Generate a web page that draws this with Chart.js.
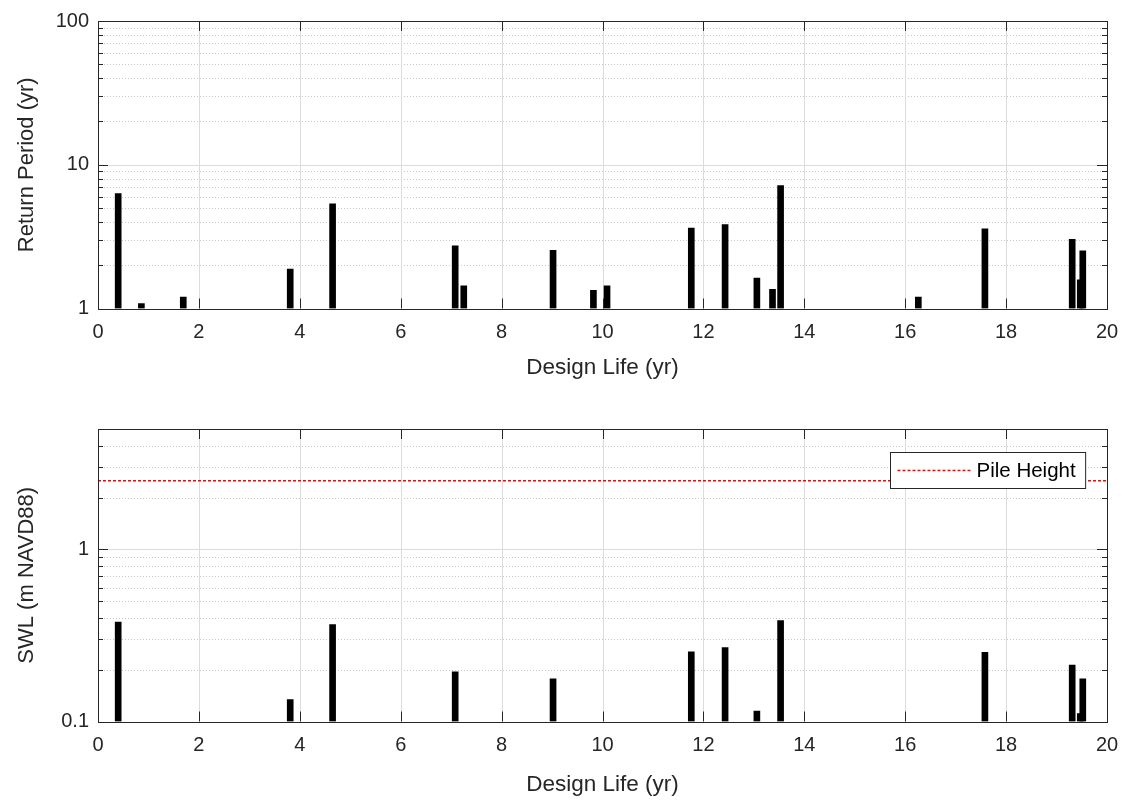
<!DOCTYPE html>
<html>
<head>
<meta charset="utf-8">
<script src="https://cdn.jsdelivr.net/npm/chart.js@4.4.1/dist/chart.umd.min.js"></script>
<style>
  body { margin: 0; background: #fff; }
  .painel { position: absolute; left: 0; width: 1124px; height: 400px; }
</style>
</head>
<body>
<div class="painel" style="top:0"><canvas id="retGrafico"></canvas></div>
<div class="painel" style="top:400px"><canvas id="swlGrafico"></canvas></div>
<script>
// eventos (anos de vida util) e valores
const eventos  = [0.40, 0.86, 1.69, 3.81, 4.65, 7.08, 7.25, 9.02, 9.82, 10.09, 11.76, 12.43, 13.06, 13.37, 13.53, 16.26, 17.58, 19.31, 19.47, 19.52];
const periodos = [6.3, 1.08, 1.2, 1.88, 5.35, 2.73, 1.44, 2.54, 1.34, 1.44, 3.62, 3.83, 1.63, 1.36, 7.17, 1.2, 3.58, 3.03, 1.58, 2.52];
const swl      = [0.378, null, null, 0.134, 0.366, 0.194, null, 0.177, null, null, 0.254, 0.269, 0.115, null, 0.386, null, 0.252, 0.213, 0.111, 0.177];
const alturaEstaca = 2.5;

const xTicks = [0, 2, 4, 6, 8, 10, 12, 14, 16, 18, 20];
const yTicksRet = [1, 10, 100];
const yTicksSwl = [0.1, 1];

const cinza = '#262626';
const fonte = "'Liberation Sans', Arial, sans-serif";

function pontos(vals) {
    const out = [];
    eventos.forEach((t, i) => { if (vals[i] != null) out.push({ x: t, y: vals[i] }); });
    return out;
}

function linha(ctx, x1, y1, x2, y2) {
    ctx.beginPath();
    ctx.moveTo(x1, y1);
    ctx.lineTo(x2, y2);
    ctx.stroke();
}

// grade, marcas internas e moldura estilo MATLAB
const moldura = {
    id: 'moldura',
    beforeDatasetsDraw(chart) {
        const { ctx, chartArea: a, scales: { x, y } } = chart;
        ctx.save();
        ctx.lineWidth = 1;
        const dMin = Math.floor(Math.log10(y.min) + 1e-9), dMax = Math.ceil(Math.log10(y.max) - 1e-9);
        ctx.strokeStyle = '#c8c8c8';
        ctx.setLineDash([1, 2]);
        for (let d = dMin; d < dMax; d++) {
            for (let m = 2; m < 10; m++) {
                const v = m * Math.pow(10, d);
                if (v > y.max) continue;
                const py = Math.round(y.getPixelForValue(v)) + 0.5;
                linha(ctx, a.left, py, a.right, py);
            }
        }
        ctx.setLineDash([]);
        ctx.strokeStyle = '#dcdcdc';
        x.ticks.forEach(t => {
            const px = Math.round(x.getPixelForValue(t.value)) + 0.5;
            linha(ctx, px, a.top, px, a.bottom);
        });
        y.ticks.forEach(t => {
            const py = Math.round(y.getPixelForValue(t.value)) + 0.5;
            linha(ctx, a.left, py, a.right, py);
        });
        ctx.restore();
    },
    afterDatasetsDraw(chart) {
        const { ctx, chartArea: a, scales: { x, y } } = chart;
        ctx.save();
        ctx.strokeStyle = cinza;
        ctx.lineWidth = 1;
        x.ticks.forEach(t => {
            const px = Math.round(x.getPixelForValue(t.value)) + 0.5;
            linha(ctx, px, a.bottom, px, a.bottom - 10);
            linha(ctx, px, a.top, px, a.top + 10);
        });
        const dMin = Math.floor(Math.log10(y.min) + 1e-9), dMax = Math.ceil(Math.log10(y.max) - 1e-9);
        for (let d = dMin; d < dMax; d++) {
            for (let m = 2; m < 10; m++) {
                const v = m * Math.pow(10, d);
                if (v > y.max) continue;
                const py = Math.round(y.getPixelForValue(v)) + 0.5;
                linha(ctx, a.left, py, a.left + 5, py);
                linha(ctx, a.right, py, a.right - 5, py);
            }
        }
        y.ticks.forEach(t => {
            const py = Math.round(y.getPixelForValue(t.value)) + 0.5;
            linha(ctx, a.left, py, a.left + 10, py);
            linha(ctx, a.right, py, a.right - 10, py);
        });
        ctx.strokeRect(Math.round(a.left) + 0.5, Math.round(a.top) + 0.5, Math.round(a.right - a.left), Math.round(a.bottom - a.top));

        // legenda dentro do grafico (canto superior direito)
        const ds = chart.data.datasets.find(d => d.type === 'line');
        if (ds) {
            ctx.font = '20.5px ' + fonte;
            const tw = ctx.measureText(ds.label).width;
            const w = 86 + tw + 10, h = 36;
            const bx = Math.round(a.right - 22 - w) + 0.5, by = Math.round(a.top + 23) + 0.5;
            ctx.fillStyle = '#fff';
            ctx.fillRect(bx, by, w, h);
            ctx.strokeStyle = cinza;
            ctx.strokeRect(bx, by, w, h);
            ctx.strokeStyle = ds.borderColor;
            ctx.lineWidth = ds.borderWidth;
            ctx.setLineDash(ds.borderDash);
            linha(ctx, bx + 7, by + h / 2, bx + 81, by + h / 2);
            ctx.setLineDash([]);
            ctx.fillStyle = '#000';
            ctx.textBaseline = 'middle';
            ctx.fillText(ds.label, bx + 86, by + h / 2 + 1);
        }
        ctx.restore();
    }
};

function eixoX(altura, padTitulo) {
    return {
        type: 'linear',
        min: 0,
        max: 20,
        offset: false,
        grid: { display: false, drawTicks: false, offset: false },
        border: { display: false },
        afterBuildTicks: s => { s.ticks = xTicks.map(v => ({ value: v })); },
        afterFit: s => { s.height = altura; s.paddingLeft = 0; s.paddingRight = 0; },
        ticks: {
            color: cinza,
            padding: 12,
            autoSkip: false,
            maxRotation: 0,
            font: { family: fonte, size: 20 }
        },
        title: {
            display: true,
            text: 'Design Life (yr)',
            color: cinza,
            padding: { top: 0, bottom: padTitulo },
            font: { family: fonte, size: 22.5 }
        }
    };
}

function eixoY(min, max, ticks, texto) {
    return {
        type: 'logarithmic',
        min: min,
        max: max,
        grid: { display: false, drawTicks: false },
        border: { display: false },
        afterBuildTicks: s => { s.ticks = ticks.map(v => ({ value: v })); },
        afterFit: s => { s.width = 98; },
        ticks: {
            color: cinza,
            padding: 9,
            autoSkip: false,
            callback: v => String(v),
            font: { family: fonte, size: 20 }
        },
        title: {
            display: true,
            text: texto,
            color: cinza,
            padding: { top: 14, bottom: 0 },
            font: { family: fonte, size: 22 }
        }
    };
}

// GRAFICO PERIODO DE RETORNO
const ret_config = {
    type: 'bar',
    data: {
        datasets: [{
            label: 'Return Period',
            data: pontos(periodos),
            backgroundColor: '#000',
            borderWidth: 0,
            barThickness: 6
        }]
    },
    options: {
        responsive: true,
        maintainAspectRatio: false,
        animation: false,
        layout: { padding: { top: 18.5, right: 17, bottom: 15, left: 0 } },
        scales: {
            x: eixoX(76.5, 4),
            y: eixoY(1, 100, yTicksRet, 'Return Period (yr)')
        },
        plugins: { legend: { display: false }, tooltip: { enabled: false } }
    },
    plugins: [moldura]
};
new Chart(document.getElementById('retGrafico'), ret_config);

// GRAFICO SWL
const swl_config = {
    type: 'bar',
    data: {
        datasets: [{
            label: 'SWL',
            data: pontos(swl),
            backgroundColor: '#000',
            borderWidth: 0,
            barThickness: 6
        }, {
            type: 'line',
            label: 'Pile Height',
            data: [{ x: 0, y: alturaEstaca }, { x: 20, y: alturaEstaca }],
            borderColor: '#ff0000',
            borderWidth: 1.5,
            borderDash: [3, 2],
            pointRadius: 0
        }]
    },
    options: {
        responsive: true,
        maintainAspectRatio: false,
        animation: false,
        layout: { padding: { top: 29, right: 17, bottom: 0, left: 0 } },
        scales: {
            x: eixoX(78.5, 1.5),
            y: eixoY(0.1, 5, yTicksSwl, 'SWL (m NAVD88)')
        },
        plugins: { legend: { display: false }, tooltip: { enabled: false } }
    },
    plugins: [moldura]
};
new Chart(document.getElementById('swlGrafico'), swl_config);
</script>
</body>
</html>
